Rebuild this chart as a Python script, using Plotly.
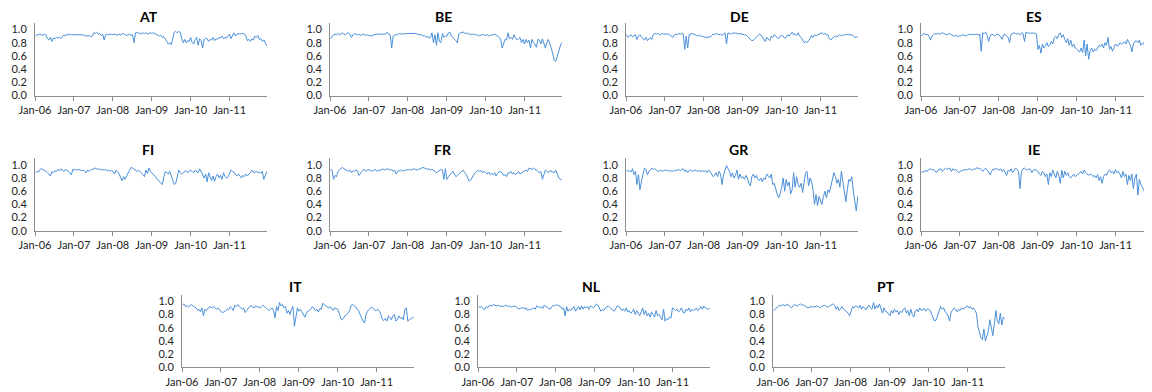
import pandas as pd
import plotly.graph_objects as go

# Bi-weekly observations, Jan 2006 - Dec 2011 (26 per year)
dates = pd.date_range("2006-01-06", periods=156, freq="14D")

countries = ["AT", "BE", "DE", "ES", "FI", "FR", "GR", "IE", "IT", "NL", "PT"]

AT = [0.90,0.92,0.92,0.93,0.92,0.91,0.93,0.92,0.86,0.84,0.88,0.82,0.87,0.86,0.88,0.87,0.88,0.86,0.89,0.92,0.90,0.93,0.92,0.93,0.92,0.92,
      0.91,0.92,0.92,0.91,0.92,0.91,0.92,0.90,0.91,0.90,0.91,0.89,0.90,0.95,0.94,0.96,0.93,0.94,0.91,0.93,0.84,0.92,0.93,0.92,0.93,0.93,
      0.92,0.93,0.92,0.91,0.93,0.92,0.93,0.94,0.92,0.91,0.92,0.93,0.91,0.92,0.80,0.95,0.96,0.94,0.95,0.93,0.95,0.94,0.95,0.93,0.94,0.95,
      0.94,0.95,0.94,0.93,0.92,0.90,0.91,0.88,0.89,0.86,0.82,0.78,0.80,0.77,0.85,0.96,0.97,0.95,0.97,0.96,0.86,0.80,0.85,0.80,0.83,0.82,
      0.88,0.80,0.78,0.85,0.88,0.76,0.86,0.83,0.72,0.85,0.87,0.86,0.82,0.85,0.84,0.88,0.83,0.86,0.85,0.88,0.87,0.90,0.86,0.88,0.87,0.90,
      0.93,0.86,0.90,0.95,0.90,0.93,0.94,0.93,0.94,0.94,0.93,0.90,0.83,0.85,0.82,0.86,0.84,0.90,0.88,0.91,0.85,0.86,0.82,0.84,0.80,0.75]

BE = [0.86,0.90,0.92,0.93,0.92,0.94,0.92,0.93,0.95,0.93,0.92,0.94,0.95,0.93,0.88,0.92,0.94,0.93,0.92,0.93,0.91,0.92,0.93,0.92,0.91,0.92,
      0.91,0.90,0.91,0.92,0.92,0.93,0.93,0.93,0.92,0.93,0.92,0.93,0.96,0.93,0.92,0.72,0.90,0.92,0.93,0.92,0.94,0.93,0.94,0.93,0.94,0.94,
      0.94,0.94,0.95,0.94,0.95,0.94,0.93,0.92,0.93,0.92,0.90,0.91,0.88,0.90,0.87,0.88,0.95,0.80,0.92,0.76,0.95,0.82,0.80,0.94,0.88,0.90,
      0.90,0.95,0.96,0.90,0.88,0.85,0.83,0.80,0.93,0.95,0.95,0.96,0.94,0.95,0.93,0.94,0.92,0.93,0.92,0.93,0.91,0.92,0.90,0.92,0.93,0.91,
      0.91,0.92,0.90,0.92,0.91,0.92,0.93,0.92,0.90,0.88,0.86,0.72,0.80,0.85,0.84,0.95,0.86,0.88,0.85,0.92,0.87,0.84,0.86,0.88,0.80,0.85,
      0.78,0.85,0.80,0.84,0.72,0.85,0.80,0.78,0.73,0.85,0.84,0.78,0.86,0.80,0.72,0.80,0.85,0.78,0.72,0.62,0.53,0.52,0.60,0.70,0.75,0.80]

DE = [0.92,0.88,0.90,0.92,0.89,0.91,0.92,0.85,0.90,0.92,0.88,0.86,0.84,0.88,0.83,0.86,0.88,0.85,0.93,0.94,0.93,0.94,0.92,0.93,0.94,0.93,
      0.93,0.94,0.93,0.92,0.90,0.88,0.92,0.93,0.92,0.94,0.93,0.94,0.93,0.70,0.90,0.72,0.92,0.93,0.94,0.93,0.92,0.91,0.90,0.92,0.89,0.90,
      0.88,0.89,0.87,0.90,0.88,0.91,0.93,0.92,0.94,0.93,0.92,0.93,0.91,0.93,0.95,0.78,0.95,0.94,0.93,0.95,0.94,0.95,0.94,0.93,0.94,0.93,
      0.93,0.92,0.92,0.90,0.88,0.85,0.83,0.84,0.86,0.88,0.90,0.93,0.92,0.88,0.85,0.82,0.88,0.85,0.83,0.90,0.88,0.92,0.90,0.89,0.86,0.90,
      0.91,0.90,0.87,0.88,0.92,0.90,0.94,0.96,0.92,0.93,0.91,0.95,0.90,0.88,0.84,0.80,0.82,0.80,0.83,0.86,0.91,0.88,0.92,0.90,0.92,0.93,
      0.94,0.95,0.93,0.94,0.92,0.92,0.86,0.84,0.87,0.88,0.90,0.89,0.91,0.92,0.90,0.92,0.91,0.93,0.92,0.92,0.91,0.92,0.90,0.88,0.89,0.88]

ES = [0.90,0.93,0.94,0.92,0.93,0.90,0.84,0.90,0.92,0.94,0.93,0.94,0.93,0.94,0.95,0.94,0.93,0.92,0.93,0.94,0.92,0.91,0.90,0.92,0.89,0.90,
      0.90,0.91,0.92,0.91,0.90,0.92,0.93,0.92,0.93,0.92,0.93,0.93,0.92,0.93,0.67,0.95,0.94,0.96,0.91,0.82,0.90,0.93,0.92,0.90,0.92,0.93,
      0.92,0.88,0.85,0.92,0.93,0.90,0.88,0.80,0.93,0.94,0.95,0.94,0.93,0.94,0.92,0.95,0.94,0.82,0.96,0.95,0.94,0.95,0.94,0.95,0.94,0.93,
      0.70,0.76,0.64,0.78,0.72,0.75,0.80,0.74,0.77,0.82,0.78,0.88,0.90,0.86,0.92,0.95,0.88,0.92,0.85,0.80,0.86,0.76,0.84,0.74,0.78,0.72,
      0.70,0.68,0.66,0.72,0.65,0.84,0.60,0.78,0.55,0.68,0.72,0.66,0.70,0.68,0.72,0.76,0.74,0.78,0.72,0.80,0.76,0.88,0.70,0.74,0.67,0.72,
      0.78,0.75,0.76,0.80,0.78,0.79,0.82,0.78,0.85,0.80,0.76,0.66,0.78,0.82,0.83,0.80,0.84,0.76,0.79,0.78,0.88,0.74,0.77,0.76,0.75,0.74]

FI = [0.88,0.90,0.89,0.93,0.94,0.93,0.92,0.90,0.88,0.85,0.83,0.90,0.88,0.91,0.90,0.93,0.91,0.94,0.92,0.90,0.93,0.92,0.90,0.87,0.85,0.93,
      0.92,0.93,0.92,0.93,0.92,0.91,0.92,0.90,0.88,0.92,0.90,0.92,0.93,0.94,0.95,0.94,0.93,0.94,0.92,0.93,0.92,0.93,0.91,0.92,0.90,0.92,
      0.88,0.86,0.92,0.90,0.86,0.80,0.76,0.82,0.78,0.83,0.88,0.92,0.96,0.95,0.93,0.92,0.90,0.92,0.90,0.88,0.85,0.82,0.92,0.87,0.95,0.90,
      0.88,0.85,0.83,0.80,0.78,0.75,0.72,0.70,0.82,0.90,0.88,0.86,0.90,0.82,0.75,0.70,0.72,0.85,0.92,0.88,0.86,0.88,0.90,0.91,0.88,0.90,
      0.92,0.90,0.88,0.92,0.90,0.88,0.94,0.89,0.85,0.80,0.86,0.74,0.88,0.80,0.76,0.83,0.75,0.82,0.86,0.80,0.84,0.78,0.88,0.82,0.80,0.81,
      0.88,0.92,0.90,0.89,0.85,0.83,0.86,0.82,0.80,0.84,0.82,0.86,0.83,0.86,0.88,0.92,0.89,0.88,0.90,0.88,0.89,0.87,0.90,0.78,0.84,0.90]

FR = [0.93,0.92,0.78,0.84,0.82,0.90,0.93,0.95,0.96,0.94,0.93,0.92,0.90,0.92,0.88,0.91,0.90,0.92,0.91,0.84,0.86,0.90,0.93,0.92,0.90,0.93,
      0.92,0.91,0.90,0.92,0.93,0.90,0.92,0.91,0.93,0.94,0.92,0.93,0.94,0.93,0.92,0.93,0.90,0.92,0.86,0.90,0.91,0.92,0.90,0.92,0.91,0.93,
      0.92,0.93,0.92,0.93,0.94,0.93,0.92,0.93,0.94,0.95,0.96,0.95,0.94,0.93,0.94,0.92,0.93,0.92,0.90,0.88,0.90,0.92,0.93,0.92,0.78,0.94,
      0.78,0.82,0.85,0.88,0.90,0.86,0.82,0.84,0.86,0.88,0.90,0.92,0.88,0.85,0.80,0.75,0.77,0.82,0.85,0.88,0.90,0.92,0.90,0.91,0.88,0.90,
      0.88,0.86,0.89,0.85,0.87,0.85,0.88,0.83,0.87,0.90,0.89,0.88,0.84,0.85,0.82,0.88,0.87,0.90,0.86,0.88,0.85,0.88,0.90,0.86,0.88,0.90,
      0.91,0.92,0.90,0.95,0.94,0.93,0.95,0.94,0.92,0.90,0.88,0.90,0.78,0.85,0.92,0.90,0.88,0.91,0.90,0.88,0.88,0.92,0.85,0.80,0.78,0.77]

GR = [0.92,0.90,0.91,0.89,0.94,0.85,0.90,0.70,0.85,0.62,0.75,0.88,0.95,0.93,0.85,0.90,0.92,0.95,0.93,0.94,0.92,0.90,0.91,0.92,0.90,0.91,
      0.92,0.91,0.92,0.90,0.91,0.90,0.92,0.91,0.92,0.93,0.91,0.92,0.94,0.90,0.92,0.88,0.91,0.92,0.90,0.91,0.92,0.91,0.90,0.92,0.89,0.91,
      0.90,0.91,0.88,0.92,0.90,0.86,0.82,0.84,0.88,0.82,0.90,0.86,0.70,0.85,0.92,0.99,0.94,0.90,0.82,0.88,0.80,0.84,0.92,0.78,0.86,0.80,
      0.82,0.78,0.84,0.80,0.72,0.68,0.82,0.86,0.80,0.84,0.78,0.76,0.80,0.74,0.80,0.78,0.86,0.82,0.80,0.86,0.70,0.72,0.62,0.55,0.50,0.56,
      0.66,0.80,0.60,0.78,0.68,0.74,0.56,0.62,0.88,0.66,0.82,0.70,0.66,0.72,0.58,0.78,0.88,0.90,0.68,0.80,0.74,0.62,0.40,0.55,0.38,0.52,
      0.44,0.40,0.52,0.60,0.50,0.62,0.58,0.70,0.80,0.88,0.82,0.72,0.78,0.66,0.90,0.72,0.56,0.44,0.62,0.78,0.75,0.82,0.60,0.42,0.30,0.52]

IE = [0.88,0.90,0.89,0.92,0.90,0.93,0.94,0.92,0.93,0.90,0.88,0.92,0.93,0.94,0.90,0.92,0.95,0.93,0.94,0.95,0.90,0.94,0.92,0.93,0.90,0.88,
      0.90,0.91,0.92,0.93,0.92,0.93,0.94,0.93,0.92,0.94,0.93,0.96,0.94,0.95,0.92,0.90,0.93,0.95,0.92,0.88,0.85,0.90,0.94,0.92,0.95,0.93,
      0.92,0.94,0.90,0.93,0.88,0.84,0.92,0.90,0.94,0.88,0.91,0.95,0.93,0.90,0.64,0.90,0.94,0.95,0.93,0.92,0.94,0.93,0.88,0.92,0.93,0.91,
      0.90,0.86,0.84,0.90,0.88,0.82,0.86,0.70,0.88,0.82,0.92,0.86,0.80,0.90,0.84,0.72,0.92,0.80,0.90,0.84,0.88,0.82,0.80,0.83,0.86,0.82,
      0.84,0.86,0.88,0.90,0.86,0.92,0.88,0.86,0.84,0.86,0.85,0.82,0.84,0.80,0.85,0.76,0.82,0.72,0.82,0.86,0.84,0.90,0.92,0.88,0.90,0.86,
      0.93,0.88,0.90,0.86,0.80,0.90,0.82,0.86,0.70,0.84,0.76,0.86,0.64,0.80,0.86,0.54,0.78,0.70,0.66,0.62,0.55,0.48,0.40,0.38,0.40,0.38]

IT = [0.95,0.96,0.92,0.93,0.92,0.94,0.95,0.93,0.92,0.90,0.86,0.88,0.84,0.90,0.78,0.88,0.86,0.90,0.92,0.91,0.90,0.92,0.89,0.88,0.90,0.87,
      0.84,0.83,0.84,0.86,0.88,0.87,0.92,0.90,0.86,0.94,0.92,0.95,0.92,0.90,0.88,0.90,0.83,0.86,0.90,0.92,0.93,0.92,0.90,0.93,0.92,0.92,
      0.90,0.92,0.94,0.92,0.90,0.88,0.86,0.88,0.90,0.86,0.75,0.92,0.86,0.98,0.93,0.95,0.90,0.92,0.82,0.86,0.80,0.88,0.92,0.62,0.80,0.90,
      0.85,0.88,0.84,0.80,0.76,0.82,0.85,0.86,0.88,0.92,0.90,0.86,0.88,0.84,0.89,0.88,0.97,0.95,0.93,0.92,0.90,0.92,0.88,0.86,0.90,0.89,
      0.88,0.82,0.74,0.72,0.76,0.78,0.80,0.82,0.86,0.94,0.95,0.93,0.92,0.88,0.86,0.80,0.74,0.70,0.67,0.80,0.85,0.88,0.90,0.91,0.88,0.86,
      0.86,0.88,0.85,0.80,0.72,0.71,0.74,0.70,0.78,0.76,0.72,0.78,0.80,0.70,0.72,0.78,0.74,0.76,0.72,0.88,0.90,0.70,0.72,0.74,0.75,0.76]

NL = [0.92,0.91,0.92,0.90,0.87,0.92,0.90,0.93,0.94,0.93,0.95,0.94,0.93,0.94,0.93,0.92,0.93,0.92,0.94,0.93,0.92,0.93,0.91,0.92,0.93,0.92,
      0.90,0.88,0.90,0.89,0.91,0.88,0.90,0.86,0.88,0.87,0.89,0.90,0.88,0.93,0.92,0.90,0.92,0.89,0.94,0.92,0.90,0.89,0.88,0.92,0.94,0.93,
      0.95,0.94,0.93,0.92,0.88,0.90,0.78,0.92,0.85,0.88,0.86,0.90,0.92,0.85,0.88,0.92,0.87,0.93,0.88,0.92,0.90,0.92,0.88,0.93,0.92,0.90,
      0.93,0.96,0.94,0.90,0.85,0.88,0.86,0.90,0.92,0.93,0.91,0.88,0.86,0.85,0.90,0.93,0.92,0.90,0.86,0.88,0.85,0.90,0.84,0.86,0.82,0.84,
      0.88,0.80,0.86,0.82,0.78,0.84,0.90,0.80,0.86,0.78,0.82,0.76,0.84,0.80,0.76,0.86,0.78,0.80,0.75,0.72,0.88,0.70,0.74,0.72,0.76,0.75,
      0.90,0.88,0.86,0.88,0.84,0.86,0.90,0.84,0.82,0.88,0.86,0.90,0.84,0.88,0.86,0.87,0.90,0.86,0.88,0.92,0.88,0.93,0.90,0.89,0.88,0.89]

PT = [0.86,0.88,0.90,0.92,0.94,0.93,0.95,0.94,0.93,0.96,0.94,0.92,0.90,0.93,0.95,0.94,0.93,0.95,0.96,0.94,0.95,0.93,0.92,0.90,0.91,0.92,
      0.92,0.91,0.92,0.93,0.92,0.90,0.92,0.93,0.94,0.93,0.91,0.92,0.94,0.95,0.96,0.94,0.88,0.92,0.86,0.90,0.92,0.88,0.86,0.84,0.82,0.78,
      0.86,0.92,0.90,0.93,0.92,0.90,0.94,0.88,0.92,0.90,0.87,0.92,0.94,0.90,0.88,0.98,0.88,0.94,0.90,0.96,0.88,0.82,0.90,0.85,0.84,0.80,
      0.78,0.86,0.82,0.88,0.84,0.86,0.80,0.85,0.83,0.88,0.90,0.82,0.86,0.78,0.88,0.80,0.76,0.85,0.88,0.84,0.90,0.86,0.88,0.89,0.85,0.88,
      0.88,0.86,0.80,0.74,0.70,0.72,0.78,0.85,0.92,0.88,0.90,0.84,0.82,0.78,0.70,0.84,0.86,0.90,0.88,0.84,0.88,0.86,0.90,0.88,0.90,0.92,
      0.93,0.90,0.92,0.88,0.90,0.86,0.82,0.62,0.55,0.45,0.42,0.58,0.40,0.48,0.55,0.72,0.60,0.48,0.66,0.86,0.70,0.66,0.82,0.64,0.76,0.74]

series = {"AT": AT, "BE": BE, "DE": DE, "ES": ES, "FI": FI, "FR": FR,
          "GR": GR, "IE": IE, "IT": IT, "NL": NL, "PT": PT}

x_ticks = ["2006-01-01", "2007-01-01", "2008-01-01", "2009-01-01", "2010-01-01", "2011-01-01"]
x_tick_labels = ["Jan-06", "Jan-07", "Jan-08", "Jan-09", "Jan-10", "Jan-11"]
y_ticks = [0.0, 0.2, 0.4, 0.6, 0.8, 1.0]

# ---- layout (pixel geometry of the panels, page pixels) ----
OFF = 8                     # page body margin offset
W, H = 1152 - 2 * OFF, 392 - OFF
PW = 232                    # plot width in px
X_START = pd.Timestamp("2006-01-01")
X_END = pd.Timestamp("2011-12-18")
lefts = {"AT": 35, "BE": 330, "DE": 626, "ES": 921,
         "FI": 35, "FR": 330, "GR": 626, "IE": 921,
         "IT": 182, "NL": 478, "PT": 773}
rows = {"AT": 0, "BE": 0, "DE": 0, "ES": 0, "FI": 1, "FR": 1, "GR": 1, "IE": 1,
        "IT": 2, "NL": 2, "PT": 2}
row_bottom = [95.5, 230.8, 367.3]
title_y = [16.5, 149.5, 286.8]
PH = 72.6                   # plot height (0 .. 1.1)

LINE = "#4A8FD9"
AXIS = "#8C8C8C"
FONT = "Lato, Carlito, 'Liberation Sans', sans-serif"

fig = go.Figure()
layout = dict(width=W, height=H, margin=dict(l=0, r=0, t=0, b=0, autoexpand=False),
              paper_bgcolor="white", plot_bgcolor="white", showlegend=False,
              font=dict(family=FONT, size=11, color="#222222"))
annotations = []

for i, c in enumerate(countries, start=1):
    sfx = "" if i == 1 else str(i)
    left = lefts[c] - OFF
    width = min(PW, W - left)
    x0 = left / W
    x1 = (left + width) / W
    x_end = X_START + (X_END - X_START) * (width / PW)
    yb = row_bottom[rows[c]] - OFF
    y0 = 1 - yb / H
    y1 = 1 - (yb - PH) / H
    fig.add_trace(go.Scatter(x=dates, y=series[c], mode="lines",
                             line=dict(color=LINE, width=1),
                             xaxis="x" + sfx, yaxis="y" + sfx,
                             hoverinfo="skip"))
    layout["xaxis" + sfx] = dict(
        domain=[x0, min(1.0, x1)], anchor="y" + sfx, type="date", automargin=False,
        range=[X_START, x_end],
        tickvals=x_ticks, ticktext=x_tick_labels,
        ticks="outside", ticklen=4, tickcolor=AXIS, tickwidth=1,
        showline=True, linecolor=AXIS, linewidth=1,
        showgrid=False, zeroline=False,
        tickfont=dict(family=FONT, size=11, color="#222222"))
    layout["yaxis" + sfx] = dict(
        domain=[y0, y1], anchor="x" + sfx, range=[0, 1.1], automargin=False,
        tickvals=y_ticks, tickformat=".1f",
        ticks="", ticklabelstandoff=5,
        showline=True, linecolor=AXIS, linewidth=1,
        showgrid=False, zeroline=False,
        tickfont=dict(family=FONT, size=11, color="#222222"))
    annotations.append(dict(
        text="<b>%s</b>" % c, x=(left + 113) / W, y=1 - (title_y[rows[c]] - OFF) / H,
        xref="paper", yref="paper", xanchor="center", yanchor="middle",
        showarrow=False, font=dict(family=FONT, size=14, color="#000000")))

layout["annotations"] = annotations
fig.update_layout(**layout)
fig.write_html("out.html")
